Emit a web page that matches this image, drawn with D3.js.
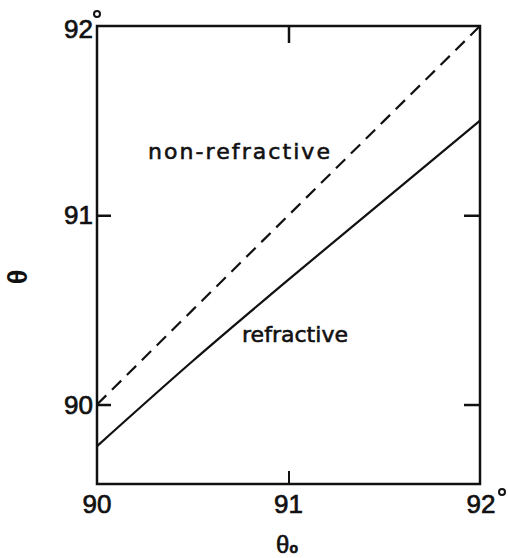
<!DOCTYPE html>
<html>
<head>
<meta charset="utf-8">
<script src="https://cdn.jsdelivr.net/npm/d3@7"></script>
<style>
  html, body { margin: 0; padding: 0; background: #fff; }
  svg { display: block; }
</style>
</head>
<body>
<svg id="chart" width="508" height="558"></svg>
<script>
// Incidence angle θ0 (degrees) sampled along the horizontal axis
const theta0 = [90, 90.5, 91, 91.5, 92];
// Observed angle θ without refraction (straight geometric path)
const nonRefractive = [90, 90.5, 91, 91.5, 92];
// Observed angle θ with atmospheric refraction
const refractive = [89.78, 90.23, 90.66, 91.08, 91.5];
// Axis ticks
const xTicks = [90, 91, 92];
const yTicks = [90, 91, 92];
const xTickLabels = ["90", "91", "92"];
const yTickLabels = ["90", "91", "92"];

const svg = d3.select("#chart");
const L = 97, R = 480, T = 26, B = 484;

const x = d3.scaleLinear().domain([90, 92]).range([L, R]);
const y = d3.scaleLinear().domain([89.58, 92]).range([B, T]);

const tickFont = "'Liberation Sans', Arial, sans-serif";
const ink = "#111";

// Frame
svg.append("rect")
  .attr("x", L).attr("y", T)
  .attr("width", R - L).attr("height", B - T)
  .attr("fill", "none").attr("stroke", ink).attr("stroke-width", 2.5);

// Inward ticks on all four sides (interior ticks only)
const inner = [91];
svg.append("g").attr("transform", `translate(0,${B})`)
  .call(d3.axisBottom(x).tickValues(inner).tickSize(-13).tickSizeOuter(0).tickFormat(""))
  .call(g => g.select(".domain").remove())
  .call(g => g.selectAll("line").attr("stroke", ink).attr("stroke-width", 2));
svg.append("g").attr("transform", `translate(0,${T})`)
  .call(d3.axisTop(x).tickValues(inner).tickSize(-17).tickSizeOuter(0).tickFormat(""))
  .call(g => g.select(".domain").remove())
  .call(g => g.selectAll("line").attr("stroke", ink).attr("stroke-width", 2.5));
svg.append("g").attr("transform", `translate(${L},0)`)
  .call(d3.axisLeft(y).tickValues([90, 91]).tickSize(-14).tickSizeOuter(0).tickFormat(""))
  .call(g => g.select(".domain").remove())
  .call(g => g.selectAll("line").attr("stroke", ink).attr("stroke-width", 2.5));
svg.append("g").attr("transform", `translate(${R},0)`)
  .call(d3.axisRight(y).tickValues([90, 91]).tickSize(-16).tickSizeOuter(0).tickFormat(""))
  .call(g => g.select(".domain").remove())
  .call(g => g.selectAll("line").attr("stroke", ink).attr("stroke-width", 2.5));

// Tick labels (slight stroke gives the heavier plotter lettering)
const xl = svg.append("g");
xTicks.forEach((v, i) => {
  xl.append("text")
    .attr("x", x(v) + (i === 2 ? 1 : 0)).attr("y", B + 29)
    .attr("text-anchor", "middle")
    .attr("font-family", tickFont).attr("font-size", 26).attr("fill", ink)
    .attr("stroke", ink).attr("stroke-width", 0.7)
    .text(xTickLabels[i]);
  if (i === xTicks.length - 1) {
    xl.append("circle").attr("cx", x(v) + 22).attr("cy", B + 8).attr("r", 3)
      .attr("fill", "none").attr("stroke", ink).attr("stroke-width", 2);
  }
});
const yl = svg.append("g");
yTicks.forEach((v, i) => {
  yl.append("text")
    .attr("x", L - 4).attr("y", y(v) + (i === 2 ? 12 : 9))
    .attr("text-anchor", "end")
    .attr("font-family", tickFont).attr("font-size", 26).attr("fill", ink)
    .attr("stroke", ink).attr("stroke-width", 0.7)
    .text(yTickLabels[i]);
  if (i === yTicks.length - 1) {
    yl.append("circle").attr("cx", L + 0).attr("cy", 14).attr("r", 3)
      .attr("fill", "none").attr("stroke", ink).attr("stroke-width", 2);
  }
});

// Curves
const line = d3.line().x((d, i) => x(theta0[i])).y(d => y(d)).curve(d3.curveMonotoneX);
svg.append("path").datum(nonRefractive)
  .attr("d", line).attr("fill", "none")
  .attr("stroke", ink).attr("stroke-width", 2.2)
  .attr("stroke-dasharray", "13,8");
svg.append("path").datum(refractive)
  .attr("d", line).attr("fill", "none")
  .attr("stroke", ink).attr("stroke-width", 2.2);

// Curve labels
const labFont = "'DejaVu Sans', sans-serif";
svg.append("text").attr("x", 148).attr("y", 159)
  .attr("font-family", labFont).attr("font-size", 22).attr("fill", ink)
  .attr("stroke", ink).attr("stroke-width", 0.6)
  .attr("textLength", 182).attr("lengthAdjust", "spacing")
  .text("non-refractive");
svg.append("text").attr("x", 242).attr("y", 342)
  .attr("font-family", labFont).attr("font-size", 22).attr("fill", ink)
  .attr("stroke", ink).attr("stroke-width", 0.6)
  .attr("textLength", 106).attr("lengthAdjust", "spacing")
  .text("refractive");

// Axis titles
svg.append("text")
  .attr("transform", "translate(18,277) rotate(-90)")
  .attr("text-anchor", "middle").attr("dy", "0.35em")
  .attr("font-family", tickFont).attr("font-size", 27).attr("fill", ink)
  .attr("font-weight", "bold")
  .text("θ");
const xt = svg.append("text")
  .attr("x", 287).attr("y", 553)
  .attr("text-anchor", "middle")
  .attr("font-family", tickFont).attr("font-size", 24).attr("fill", ink)
  .attr("stroke", ink).attr("stroke-width", 0.6);
xt.append("tspan").text("θ");
xt.append("tspan").attr("font-size", 14).attr("font-weight", "bold").text("o");
</script>
</body>
</html>
